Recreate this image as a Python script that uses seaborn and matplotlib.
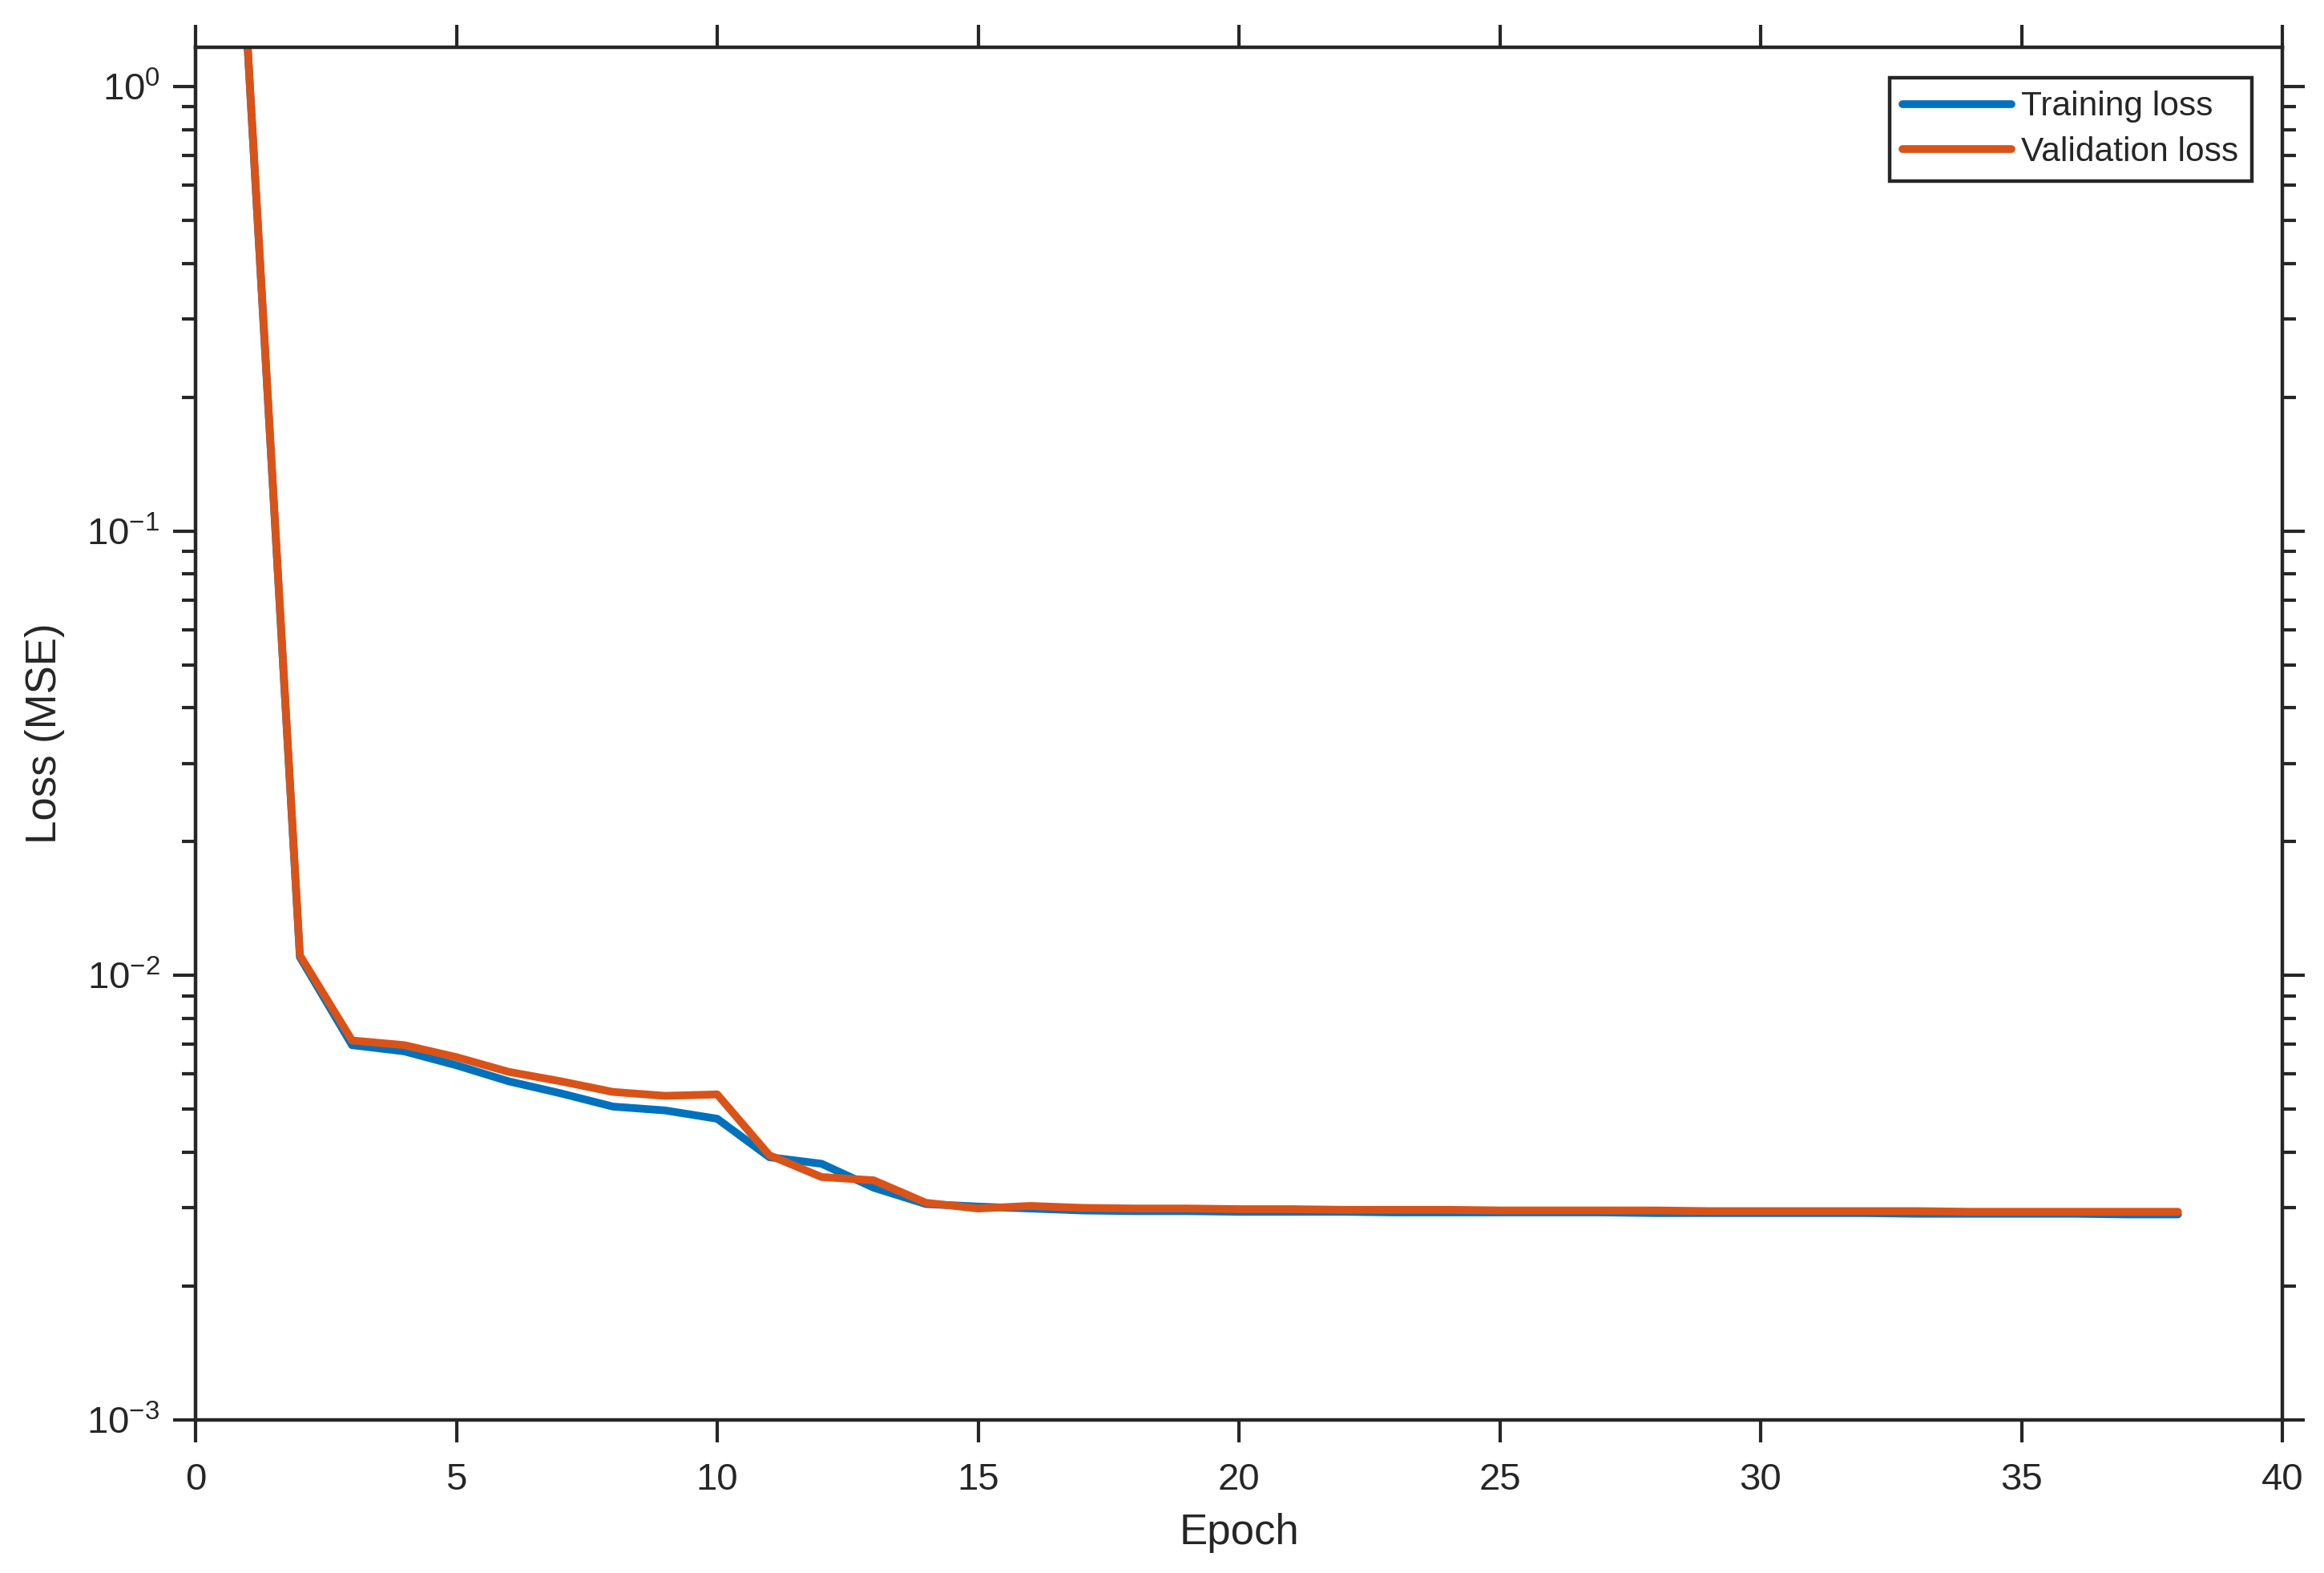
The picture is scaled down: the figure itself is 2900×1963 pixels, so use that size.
import numpy as np
import pandas as pd
import matplotlib
matplotlib.use("Agg")
import matplotlib.pyplot as plt
import seaborn as sns
from matplotlib.ticker import LogLocator, NullFormatter

# values
epochs = list(range(1, 39))
train_loss = [1.22, 0.0110, 0.00697, 0.00675, 0.00628, 0.00578, 0.00543, 0.00507,
              0.00497, 0.00476, 0.00390, 0.00377, 0.00333, 0.00306, 0.00302, 0.00299,
              0.00296, 0.00295, 0.00295, 0.00294, 0.00294, 0.00294, 0.00293, 0.00293,
              0.00293, 0.00293, 0.00293, 0.00292, 0.00292, 0.00292, 0.00292, 0.00292,
              0.00291, 0.00291, 0.00291, 0.00291, 0.00290, 0.00290]
val_loss = [1.225, 0.0111, 0.00714, 0.00697, 0.00655, 0.00607, 0.00578, 0.00547,
            0.00536, 0.00540, 0.00394, 0.00352, 0.00346, 0.00308, 0.00299, 0.00303,
            0.00300, 0.00299, 0.00299, 0.00298, 0.00298, 0.00297, 0.00297, 0.00297,
            0.00296, 0.00296, 0.00296, 0.00296, 0.00295, 0.00295, 0.00295, 0.00295,
            0.00295, 0.00294, 0.00294, 0.00294, 0.00294, 0.00294]
series_names = ["Training loss", "Validation loss"]
colors = ["#0072BD", "#D95319"]
x_ticks = [0, 5, 10, 15, 20, 25, 30, 35, 40]

df = pd.DataFrame({
    "Epoch": epochs * 2,
    "Loss": train_loss + val_loss,
    "Series": [series_names[0]] * len(epochs) + [series_names[1]] * len(epochs),
})

sns.set_theme(style="ticks")
plt.rcParams["font.family"] = ["Liberation Sans", "DejaVu Sans"]
plt.rcParams["mathtext.fontset"] = "custom"
plt.rcParams["mathtext.rm"] = "Liberation Sans"
plt.rcParams["mathtext.default"] = "regular"

fig = plt.figure(figsize=(14.5, 9.815), dpi=200)
ax = fig.add_axes([244 / 2900, 1 - 1772 / 1963, (2848 - 244) / 2900, (1772 - 59) / 1963])

sns.lineplot(data=df, x="Epoch", y="Loss", hue="Series", hue_order=series_names,
             palette=colors, linewidth=3.5, ax=ax, legend=False)

ax.set_yscale("log")
ax.set_xlim(0, 40)
ax.set_ylim(1e-3, 1.225)
ax.set_xticks(x_ticks)
ax.yaxis.set_major_locator(LogLocator(base=10, numticks=10))
ax.yaxis.set_minor_locator(LogLocator(base=10, subs=np.arange(2, 10), numticks=20))
ax.yaxis.set_minor_formatter(NullFormatter())

ink = "#262626"
for side in ["top", "right", "bottom", "left"]:
    ax.spines[side].set_visible(True)
    ax.spines[side].set_linewidth(1.6)
    ax.spines[side].set_color(ink)

ax.tick_params(axis="both", which="major", direction="out", length=10, width=1.5,
               colors=ink, labelsize=17, labelcolor=ink, top=True, right=True)
ax.tick_params(axis="x", which="major", pad=9)
ax.tick_params(axis="y", which="major", pad=6)
ax.tick_params(axis="y", which="minor", direction="out", length=6, width=1.5,
               colors=ink, right=True)
ax.tick_params(axis="x", which="minor", bottom=False, top=False)

ax.set_xlabel("Epoch", fontsize=19, color=ink, labelpad=7)
ax.set_ylabel("Loss (MSE)", fontsize=19, color=ink, labelpad=10)

handles = ax.get_lines()[:2]
leg = ax.legend(handles, series_names, loc="upper right", fontsize=15.3,
                frameon=True, fancybox=False, framealpha=1, edgecolor=ink,
                handlelength=3.2, handletextpad=0.3, borderpad=0.38,
                labelspacing=0.38, borderaxespad=0.9)
leg.get_frame().set_linewidth(1.6)

fig.savefig("out.png", dpi=200, facecolor="white")
